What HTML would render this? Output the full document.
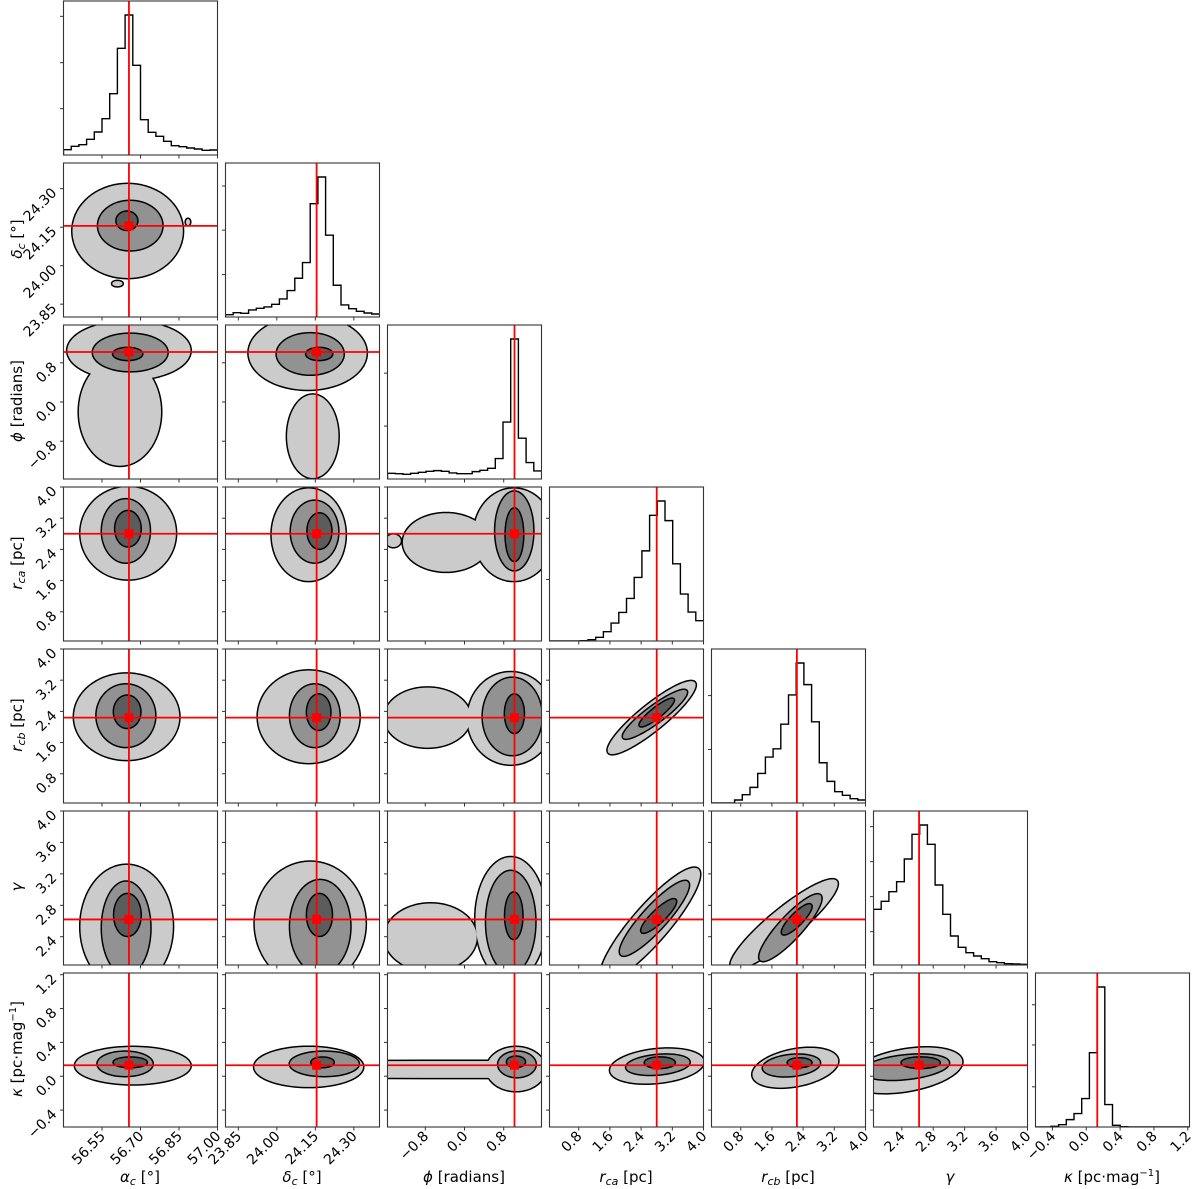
<!DOCTYPE html>
<html><head><meta charset="utf-8"><style>
body{margin:0;background:#fff;}
svg{display:block;font-family:"DejaVu Sans","Liberation Sans",sans-serif;}
</style></head><body>
<svg id="chart" width="1200" height="1189" viewBox="0 0 1200 1189" xmlns="http://www.w3.org/2000/svg">
<g id="axlabels" font-size="15" fill="#000">
<text x="140" y="1182" text-anchor="middle"><tspan font-style="italic">α</tspan><tspan font-size="11" font-style="italic" dy="3">c</tspan><tspan dy="-3">  [°]</tspan></text>
<text x="302" y="1182" text-anchor="middle"><tspan font-style="italic">δ</tspan><tspan font-size="11" font-style="italic" dy="3">c</tspan><tspan dy="-3">  [°]</tspan></text>
<text x="464" y="1182" text-anchor="middle"><tspan font-style="italic">ϕ</tspan> [radians]</text>
<text x="626" y="1182" text-anchor="middle"><tspan font-style="italic">r</tspan><tspan font-size="11" font-style="italic" dy="3">ca</tspan><tspan dy="-3"> [pc]</tspan></text>
<text x="788" y="1182" text-anchor="middle"><tspan font-style="italic">r</tspan><tspan font-size="11" font-style="italic" dy="3">cb</tspan><tspan dy="-3"> [pc]</tspan></text>
<text x="950" y="1182" text-anchor="middle" font-style="italic">γ</text>
<text x="1112" y="1182" text-anchor="middle"><tspan font-style="italic">κ</tspan> [pc·mag<tspan font-size="10" dy="-6">−1</tspan><tspan dy="6">]</tspan></text>
<text transform="translate(22,239) rotate(-90)" text-anchor="middle"><tspan font-style="italic">δ</tspan><tspan font-size="11" font-style="italic" dy="3">c</tspan><tspan dy="-3">  [°]</tspan></text>
<text transform="translate(22,401) rotate(-90)" text-anchor="middle"><tspan font-style="italic">ϕ</tspan> [radians]</text>
<text transform="translate(22,563) rotate(-90)" text-anchor="middle"><tspan font-style="italic">r</tspan><tspan font-size="11" font-style="italic" dy="3">ca</tspan><tspan dy="-3"> [pc]</tspan></text>
<text transform="translate(22,725) rotate(-90)" text-anchor="middle"><tspan font-style="italic">r</tspan><tspan font-size="11" font-style="italic" dy="3">cb</tspan><tspan dy="-3"> [pc]</tspan></text>
<text transform="translate(22,887) rotate(-90)" text-anchor="middle" font-style="italic">γ</text>
<text transform="translate(22,1049) rotate(-90)" text-anchor="middle"><tspan font-style="italic">κ</tspan> [pc·mag<tspan font-size="10" dy="-6">−1</tspan><tspan dy="6">]</tspan></text>
</g>
</svg>
<script>
// axis ranges and truths
const rangeLo = [56.4, 23.80, -1.5708, 0.05, 0.05, 2.04, -0.6];
const rangeHi = [57.0, 24.40, 1.5708, 4.0, 4.0, 4.0, 1.22];
const truths = [56.655, 24.155, 1.02, 2.8, 2.24, 2.62, 0.13];
const tickVals = [
  [56.55, 56.70, 56.85, 57.00],
  [23.85, 24.00, 24.15, 24.30],
  [-0.8, 0.0, 0.8],
  [0.8, 1.6, 2.4, 3.2, 4.0],
  [0.8, 1.6, 2.4, 3.2, 4.0],
  [2.4, 2.8, 3.2, 3.6, 4.0],
  [-0.4, 0.0, 0.4, 0.8, 1.2]
];
const tickLabels = [
  ["56.55","56.70","56.85","57.00"],
  ["23.85","24.00","24.15","24.30"],
  ["−0.8","0.0","0.8"],
  ["0.8","1.6","2.4","3.2","4.0"],
  ["0.8","1.6","2.4","3.2","4.0"],
  ["2.4","2.8","3.2","3.6","4.0"],
  ["−0.4","0.0","0.4","0.8","1.2"]
];
// histogram counts (20 bins each)
const histAlpha = [16,26,31,47,69,109,184,320,420,269,106,68,56,41,28,25,21,18,14,15];
const histDelta = [7,13,11,21,26,30,38,54,79,116,163,339,419,245,95,36,25,17,12,9];
const histPhi = [17,16,14,17,20,23,25,23,18,16,16,22,26,32,61,170,418,122,49,24];
const histRca = [0,0,0,0,1,4,11,28,54,86,128,191,271,378,421,362,232,141,87,61];
const histRcb = [0,0,0,9,25,47,89,138,163,237,325,421,356,244,121,65,34,23,13,9];
const histGamma = [167,191,220,250,318,392,420,362,240,152,87,53,37,27,19,10,7,4,3,2];
const histKappa = [0,0,2,7,22,40,85,222,418,67,5,1,0,0,0,0,0,0,0,0];
const hists = [histAlpha, histDelta, histPhi, histRca, histRcb, histGamma, histKappa];
const histTicks = [[139,277,416],[127,260,392],[158,316],[185,369],[161,323],[100,205,310,415],[120,245,365]];
// contour ellipses: [level, cx, cy, ax, ay, bx, by] in data units
const cDeltaAlpha = [[0,56.65,24.135,.215,0,0,.183],[0,56.885,24.17,.008,0,0,.012],[0,56.61,23.93,.02,0,0,.01],[1,56.66,24.156,.125,0,0,.096],[2,56.647,24.175,.04,0,0,.035]];
const cPhiAlpha = [[0,56.655,1.05,.24,0,0,.6],[0,56.62,-0.2,.16,0,0,1.1],[1,56.66,1.01,.145,0,0,.38],[2,56.65,0.98,.056,0,0,.12]];
const cPhiDelta = [[0,24.12,1.0,.23,0,0,.75],[0,24.14,-0.7,.1,0,0,.85],[1,24.13,0.98,.13,0,0,.42],[2,24.165,0.98,.05,0,0,.12]];
const cRcaAlpha = [[0,56.652,2.815,.186,0,0,1.185],[1,56.643,2.874,.093,0,0,.81],[2,56.651,2.93,.049,0,0,.45]];
const cRcaDelta = [[0,24.124,2.776,.144,0,0,1.185],[1,24.147,2.855,.092,0,0,.79],[2,24.166,2.87,.046,0,0,.45]];
const cRcaPhi = [[0,1.005,2.776,.817,0,0,1.185],[0,-0.377,2.578,.88,0,0,.75],[0,-1.45,2.62,.15,0,0,.16],[1,1.015,2.874,.386,0,0,1.007],[2,1.018,2.776,.176,0,0,.67]];
const cRcbAlpha = [[0,56.646,2.262,.205,0,0,1.106],[1,56.643,2.29,.114,0,0,.80],[2,56.648,2.39,.051,0,0,.41]];
const cRcbDelta = [[0,24.124,2.262,.198,0,0,1.185],[1,24.148,2.29,.096,0,0,.80],[2,24.163,2.38,.045,0,0,.45]];
const cRcbPhi = [[0,0.943,2.22,.88,0,0,1.185],[0,-0.754,2.24,.88,0,0,.77],[1,0.974,2.27,.60,0,0,.99],[2,1.018,2.34,.19,0,0,.49]];
const cRcbRca = [[0,2.67,2.24,1.11,.90,.205,-.256],[1,2.755,2.325,.81,.60,.128,-.171],[2,2.8,2.37,.43,.34,.077,-.094]];
const cGammaAlpha = [[0,56.646,2.53,.18,0,0,.784],[1,56.644,2.51,.094,0,0,.59],[2,56.649,2.677,.051,0,0,.265]];
const cGammaDelta = [[0,24.13,2.57,.216,0,0,.784],[1,24.169,2.53,.117,0,0,.59],[2,24.166,2.677,.048,0,0,.265]];
const cGammaPhi = [[0,0.943,2.628,.72,0,0,.784],[0,-0.691,2.393,.94,0,0,.43],[1,0.943,2.589,.50,0,0,.647],[2,1.005,2.667,.173,0,0,.294]];
const cGammaRca = [[0,2.633,2.557,1.133,.721,.593,0],[1,2.741,2.634,.788,.475,.40,0],[2,2.85,2.664,.388,.212,.216,0]];
const cGammaRcb = [[0,1.911,2.557,1.241,.573,.593,0],[1,2.073,2.515,.70,.424,.378,0],[2,2.235,2.621,.324,.191,.194,0]];
const cKappaAlpha = [[0,56.67,0.125,.225,0,0,.22],[1,56.64,0.146,.107,0,0,.143],[2,56.66,0.164,.064,0,0,.055]];
const cKappaDelta = [[0,24.124,0.11,.212,0,0,.236],[1,24.185,0.146,.134,0,0,.143],[2,24.178,0.164,.043,0,0,.055]];
const cKappaPhi = [[0,0,0.08,9,0,0,.10],[0,1.05,0.085,.6,0,0,.26],[1,1.07,0.14,.38,0,0,.15],[2,1.05,0.17,.18,0,0,.06]];
const cKappaRca = [[0,2.806,0.12,1.2,.05,0,.2],[1,2.83,0.136,.81,.03,0,.115],[2,2.88,0.16,.38,0,0,.06]];
const cKappaRcb = [[0,2.2,0.10,1.1,.08,0,.22],[1,2.1,0.127,.73,.03,0,.124],[2,2.31,0.16,.3,0,0,.05]];
const cKappaGamma = [[0,2.45,0.07,.72,.1,0,.25],[1,2.45,0.107,.55,.05,0,.14],[2,2.64,0.16,.24,0,0,.06]];

const contours = {
 "1,0":cDeltaAlpha,"2,0":cPhiAlpha,"2,1":cPhiDelta,
 "3,0":cRcaAlpha,"3,1":cRcaDelta,"3,2":cRcaPhi,
 "4,0":cRcbAlpha,"4,1":cRcbDelta,"4,2":cRcbPhi,"4,3":cRcbRca,
 "5,0":cGammaAlpha,"5,1":cGammaDelta,"5,2":cGammaPhi,"5,3":cGammaRca,"5,4":cGammaRcb,
 "6,0":cKappaAlpha,"6,1":cKappaDelta,"6,2":cKappaPhi,"6,3":cKappaRca,"6,4":cKappaRcb,"6,5":cKappaGamma
};
const varKeys = ["alpha","delta","phi","rca","rcb","gamma","kappa"];
const levelColors = ["#cbcbcb","#929292","#5c5c5c"];

const NS = "http://www.w3.org/2000/svg";
const svg = document.getElementById("chart");
const P = 154, STEP = 162, X0 = 63.5, Y0 = 1;
function mk(tag, attrs, parent){const e=document.createElementNS(NS,tag);for(const k in attrs)e.setAttribute(k,attrs[k]);(parent||svg).appendChild(e);return e;}
function xScale(v,c){return X0+STEP*c+(v-rangeLo[c])/(rangeHi[c]-rangeLo[c])*P;}
function yScale(v,r){return Y0+STEP*r+P-(v-rangeLo[r])/(rangeHi[r]-rangeLo[r])*P;}
const defs = mk("defs",{});

for(let r=0;r<7;r++){
 for(let c=0;c<=r;c++){
  const px=X0+STEP*c, py=Y0+STEP*r;
  const g=mk("g",{});
  
  
  const cp=mk("clipPath",{id:"cp"+r+"_"+c},defs);
  mk("rect",{x:px,y:py,width:P,height:P},cp);
  const inner=mk("g",{"clip-path":"url(#cp"+r+"_"+c+")"},g);
  if(r===c){
   const h=hists[c]; const ymax=Math.max(...h)*1.1;
   const hy=v=>py+P-v/ymax*P;
   let d="M"+px+","+(py+P);
   for(let i=0;i<h.length;i++){
    const xa=px+i*P/h.length, xb=px+(i+1)*P/h.length;
    d+=" L"+xa+","+hy(h[i])+" L"+xb+","+hy(h[i]);
   }
   const hp=mk("path",{d:d,fill:"none",stroke:"#000","stroke-width":1.4},inner);
   
   
   const tx=xScale(truths[c],c);
   const tl=mk("line",{x1:tx,x2:tx,y1:py,y2:py+P,stroke:"#ff0000","stroke-width":1.8},inner);
   
   
   for(const t of histTicks[c]){const yy=hy(t);mk("line",{x1:px-3.5,x2:px,y1:yy,y2:yy,stroke:"#333","stroke-width":1},g);}
  } else {
   const list=contours[r+","+c]||[];
   for(let lv=0;lv<3;lv++){
    const shapes=list.filter(s=>s[0]===lv).map(s=>{
     let d="";
     for(let k=0;k<=72;k++){
      const t=k/72*2*Math.PI;
      const vx=s[1]+s[3]*Math.cos(t)+s[5]*Math.sin(t);
      const vy=s[2]+s[4]*Math.cos(t)+s[6]*Math.sin(t);
      d+=(k?" L":"M")+xScale(vx,c).toFixed(2)+","+yScale(vy,r).toFixed(2);
     }
     return d+"Z";
    });
    for(const d of shapes){mk("path",{d:d,fill:"#000",stroke:"#000","stroke-width":3,"stroke-linejoin":"round"},inner);}
    for(const d of shapes){
     const cf=mk("path",{d:d,fill:levelColors[lv]},inner);
     
     
    }
   }
   const tx=xScale(truths[c],c), ty=yScale(truths[r],r);
   const vl=mk("line",{x1:tx,x2:tx,y1:py,y2:py+P,stroke:"#ff0000","stroke-width":1.8},inner);
   
   
   const hl=mk("line",{x1:px,x2:px+P,y1:ty,y2:ty,stroke:"#ff0000","stroke-width":1.8},inner);
   
   
   const mkr=mk("rect",{x:tx-4.5,y:ty-4.5,width:9,height:9,fill:"#ff0000"},inner);
   
   
   tickVals[r].forEach((t,i)=>{
    const yy=yScale(t,r);
    if(yy<py-0.5||yy>py+P+0.5) return;
    mk("line",{x1:px-3.5,x2:px,y1:yy,y2:yy,stroke:"#333","stroke-width":1},g);
    if(c===0){
     const lb=mk("text",{x:px-6,y:yy+5,"text-anchor":"end","font-size":"14",transform:"rotate(-45 "+(px-6)+" "+(yy+5)+")"},g);
     lb.textContent=tickLabels[r][i];
     
     
    }
   });
  }
  tickVals[c].forEach((t,i)=>{
   const xx=xScale(t,c);
   if(xx<px-0.5||xx>px+P+0.5) return;
   mk("line",{x1:xx,x2:xx,y1:py+P,y2:py+P+3.5,stroke:"#333","stroke-width":1},g);
   if(r===6){
    const ly=py+P+10;
    const lb=mk("text",{x:xx+4,y:ly,"text-anchor":"end","font-size":"14",transform:"rotate(-45 "+(xx+4)+" "+ly+")"},g);
    lb.textContent=tickLabels[c][i];
    
    
   }
  });
  const fr=mk("rect",{x:px,y:py,width:P,height:P,fill:"none",stroke:"#333","stroke-width":1.1},g);
  
  
 }
}
</script>
</body></html>
